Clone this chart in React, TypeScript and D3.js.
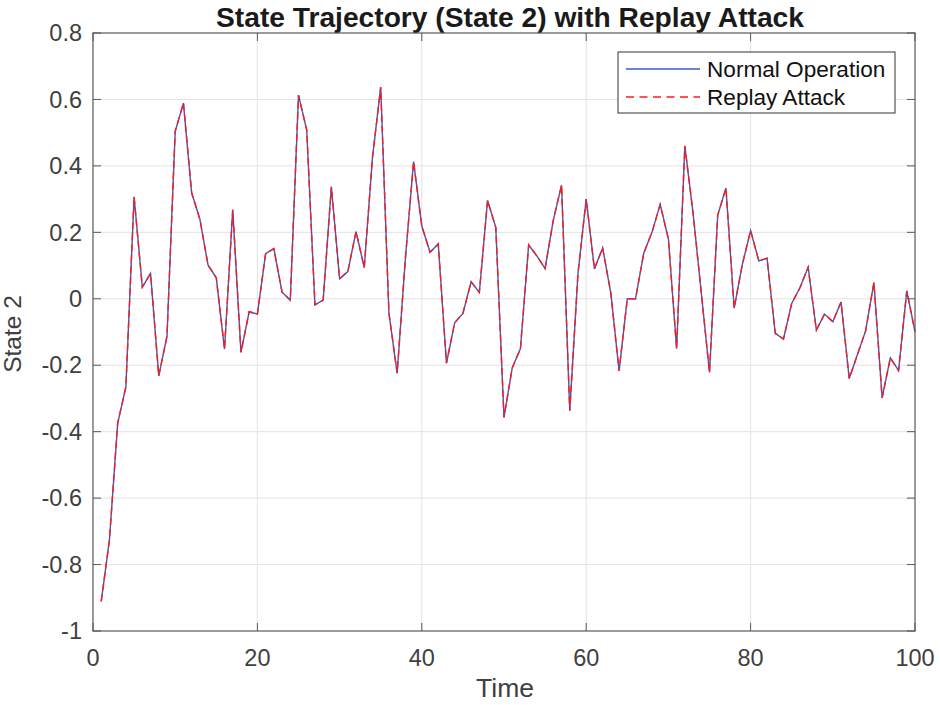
import { useMemo } from 'react';
import * as d3 from 'd3';

// state 2 trajectory, k = 1..100
const timeSteps = d3.range(1, 101);
const normalOp = [
  -0.911, -0.726, -0.375, -0.265, 0.307, 0.035, 0.076, -0.232, -0.113, 0.504,
  0.589, 0.319, 0.24, 0.101, 0.063, -0.152, 0.268, -0.161, -0.039, -0.046,
  0.136, 0.151, 0.02, -0.004, 0.613, 0.508, -0.018, -0.004, 0.337, 0.06,
  0.082, 0.202, 0.094, 0.425, 0.637, -0.043, -0.224, 0.12, 0.413, 0.219,
  0.14, 0.165, -0.194, -0.072, -0.044, 0.051, 0.019, 0.296, 0.215, -0.357,
  -0.208, -0.15, 0.162, 0.129, 0.091, 0.237, 0.342, -0.337, 0.076, 0.3,
  0.09, 0.153, 0.016, -0.217, 0, 0, 0.137, 0.2, 0.284, 0.18,
  -0.15, 0.46, 0.258, 0.018, -0.222, 0.252, 0.333, -0.028, 0.104, 0.205,
  0.114, 0.122, -0.104, -0.121, -0.014, 0.033, 0.095, -0.094, -0.046, -0.069,
  -0.01, -0.24, -0.168, -0.096, 0.049, -0.298, -0.178, -0.216, 0.024, -0.099,
];
// replayed measurements coincide with the normal run
const replayAttack = normalOp.slice();

const xTicks = [0, 20, 40, 60, 80, 100];
const yTicks = [-1, -0.8, -0.6, -0.4, -0.2, 0, 0.2, 0.4, 0.6, 0.8];
const yTickLabels = ['-1', '-0.8', '-0.6', '-0.4', '-0.2', '0', '0.2', '0.4', '0.6', '0.8'];
const legendLabels = ['Normal Operation', 'Replay Attack'];

const FONT = 'Liberation Sans, Arial, Helvetica, sans-serif';

export default function App(): React.ReactNode {
  const width = 940;
  const height = 705;
  const margin = { top: 33, right: 25, bottom: 74, left: 93 };
  const innerW = width - margin.left - margin.right;
  const innerH = height - margin.top - margin.bottom;

  const { x, y, normalPath, replayPath } = useMemo(() => {
    const x = d3.scaleLinear().domain([0, 100]).range([0, innerW]);
    const y = d3.scaleLinear().domain([-1, 0.8]).range([innerH, 0]);
    const line = d3
      .line<number>()
      .x((_, i) => x(timeSteps[i]))
      .y((d) => y(d));
    return {
      x,
      y,
      normalPath: line(normalOp) ?? '',
      replayPath: line(replayAttack) ?? '',
    };
  }, [innerW, innerH]);

  const tickLen = 8;
  const axisColor = '#595959';
  const textColor = '#404040';

  return (
    <div style={{ position: 'absolute', left: 0, top: 0 }}>
      <svg width={width} height={height} style={{ display: 'block', background: '#fff' }}>
        <text
          x={510}
          y={27}
          textAnchor="middle"
          fontFamily={FONT}
          fontWeight="bold"
          fontSize={28.2}
          fill="#1a1a1a"
        >
          State Trajectory (State 2) with Replay Attack
        </text>
        <g transform={`translate(${margin.left},${margin.top})`}>
          {/* grid */}
          {xTicks.slice(1, -1).map((t) => (
            <line key={'gx' + t} x1={x(t)} x2={x(t)} y1={0} y2={innerH} stroke="#e3e3e3" strokeWidth={1} />
          ))}
          {yTicks.slice(1, -1).map((t) => (
            <line key={'gy' + t} x1={0} x2={innerW} y1={y(t)} y2={y(t)} stroke="#e3e3e3" strokeWidth={1} />
          ))}

          {/* data */}
          <path d={normalPath} fill="none" stroke="#3a5bbf" strokeWidth={1.4} />
          <path d={replayPath} fill="none" stroke="#ff1a1a" strokeWidth={1.4} strokeDasharray="7 4" />

          {/* box + ticks */}
          <rect x={0} y={0} width={innerW} height={innerH} fill="none" stroke={axisColor} strokeWidth={1.2} />
          {xTicks.map((t) => (
            <g key={'tx' + t}>
              <line x1={x(t)} x2={x(t)} y1={innerH} y2={innerH - tickLen} stroke={axisColor} />
              <line x1={x(t)} x2={x(t)} y1={0} y2={tickLen} stroke={axisColor} />
              <text
                x={x(t)}
                y={innerH + 35}
                textAnchor="middle"
                fontFamily={FONT}
                fontSize={23.5}
                fill={textColor}
              >
                {t}
              </text>
            </g>
          ))}
          {yTicks.map((t, i) => (
            <g key={'ty' + t}>
              <line x1={0} x2={tickLen} y1={y(t)} y2={y(t)} stroke={axisColor} />
              <line x1={innerW} x2={innerW - tickLen} y1={y(t)} y2={y(t)} stroke={axisColor} />
              <text
                x={-11}
                y={y(t)}
                dy="0.35em"
                textAnchor="end"
                fontFamily={FONT}
                fontSize={23.5}
                fill={textColor}
              >
                {yTickLabels[i]}
              </text>
            </g>
          ))}

          {/* axis labels */}
          <text
            x={innerW / 2 + 1}
            y={innerH + 66}
            textAnchor="middle"
            fontFamily={FONT}
            fontSize={26.5}
            fill={textColor}
          >
            Time
          </text>
          <text
            transform={`translate(${-72},${innerH / 2 + 2}) rotate(-90)`}
            textAnchor="middle"
            fontFamily={FONT}
            fontSize={24.5}
            fill={textColor}
          >
            State 2
          </text>

          {/* legend */}
          <g transform={`translate(${618 - margin.left},${52 - margin.top})`}>
            <rect x={0} y={0} width={277} height={61} fill="#fff" stroke="#333" strokeWidth={1} />
            {legendLabels.map((label, i) => (
              <g key={label} transform={`translate(0,${17 + i * 28})`}>
                <line
                  x1={8}
                  x2={82}
                  y1={0}
                  y2={0}
                  stroke={i === 0 ? '#3a5bbf' : '#ff1a1a'}
                  strokeWidth={1.3}
                  strokeDasharray={i === 0 ? undefined : '8 5.5'}
                />
                <text x={89} y={0} dy="0.36em" fontFamily={FONT} fontSize={22.6} fill="#111">
                  {label}
                </text>
              </g>
            ))}
          </g>
        </g>
      </svg>
    </div>
  );
}
